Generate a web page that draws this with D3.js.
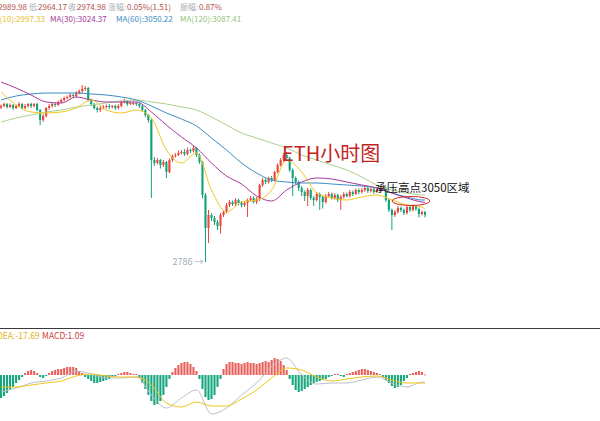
<!DOCTYPE html>
<html><head><meta charset="utf-8">
<script src="https://cdn.jsdelivr.net/npm/d3@7"></script>
<style>body{margin:0;background:#fff;overflow:hidden}svg{display:block}</style>
</head><body>
<svg id="c" width="600" height="421"></svg>
<script>
// ETH hourly candles (price)
const openP=[3404,3410,3418,3406,3414,3402,3410,3418,3402,3410,
3418,3410,3418,3394,3354,3370,3402,3410,3418,3414,
3426,3434,3442,3446,3454,3450,3462,3470,3478,3482,
3434,3418,3402,3394,3402,3406,3410,3406,3410,3402,
3410,3426,3430,3418,3422,3422,3418,3410,3394,3374,
3354,3194,3182,3194,3174,3186,3146,3194,3210,3214,
3222,3226,3218,3234,3230,3242,3214,3186,3054,2922,
2974,2962,2946,2930,2974,2986,3014,3026,3018,3034,
3022,3014,3022,3034,3042,3026,3038,3094,3114,3106,
3122,3114,3146,3174,3194,3214,3202,3154,3122,3106,
3082,3066,3050,3074,3042,3034,3058,3046,3026,3050,
3058,3042,3054,3034,3046,3058,3050,3066,3058,3074,
3066,3074,3082,3070,3078,3066,3074,3078,3082,3034,
2994,2974,2986,3002,2994,2982,3006,2994,3010,2998,2978,2986];
const closeP=[3410,3418,3406,3414,3402,3410,3418,3402,3410,3418,
3410,3418,3394,3354,3370,3402,3410,3418,3414,3426,
3434,3442,3446,3454,3450,3462,3470,3478,3482,3434,
3418,3402,3394,3402,3406,3410,3406,3410,3402,3410,
3426,3430,3418,3422,3422,3418,3410,3394,3374,3354,
3194,3182,3194,3174,3186,3146,3194,3210,3214,3222,
3226,3218,3234,3230,3242,3214,3186,3054,2922,2974,
2962,2946,2930,2974,2986,3014,3026,3018,3034,3022,
3014,3022,3034,3042,3026,3038,3094,3114,3106,3122,
3114,3146,3174,3194,3214,3202,3154,3122,3106,3082,
3066,3050,3074,3042,3034,3058,3046,3026,3050,3058,
3042,3054,3034,3046,3058,3050,3066,3058,3074,3066,
3074,3082,3070,3078,3066,3074,3078,3082,3034,2994,
2974,2986,3002,2994,2982,3006,2994,3010,2998,2978,2986,2974.98];
const highP=[3416,3424,3422,3420,3418,3416,3426,3422,3418,3422,
3424,3422,3424,3398,3378,3406,3418,3426,3424,3432,
3440,3448,3452,3462,3460,3470,3476,3494,3490,3486,
3440,3422,3408,3410,3414,3416,3418,3414,3416,3418,
3432,3440,3434,3428,3428,3426,3422,3414,3398,3378,
3358,3206,3202,3198,3194,3190,3200,3216,3222,3232,
3234,3238,3244,3240,3250,3246,3220,3190,3062,2994,
2982,2970,2954,2982,2994,3022,3034,3032,3042,3040,
3030,3030,3040,3050,3048,3046,3098,3122,3120,3128,
3130,3150,3180,3202,3222,3226,3208,3160,3128,3112,
3090,3072,3082,3080,3050,3066,3064,3052,3058,3066,
3064,3062,3060,3054,3066,3064,3074,3072,3080,3080,
3082,3088,3086,3084,3082,3080,3084,3088,3086,3040,
3000,2994,3010,3008,3000,3012,3012,3016,3014,3004,2992,2989.98];
const lowP=[3398,3406,3400,3402,3394,3398,3406,3396,3398,3404,
3402,3404,3388,3334,3346,3364,3396,3404,3406,3410,
3420,3428,3436,3440,3442,3444,3456,3462,3470,3428,
3410,3396,3384,3386,3396,3400,3398,3400,3394,3396,
3404,3420,3410,3414,3414,3410,3402,3386,3366,3344,
3042,3170,3176,3160,3166,3122,3140,3186,3204,3210,
3216,3210,3212,3222,3224,3206,3178,3040,2786,2862,
2950,2934,2914,2900,2966,2980,3006,3010,3010,3014,
3004,3006,2966,3028,3020,3018,3030,3086,3098,3100,
3106,3108,3140,3168,3186,3194,3146,3050,3098,3070,
3050,3030,3010,3034,3010,3028,2994,3000,3020,3044,
3036,3036,3026,2994,3040,3044,3044,3050,3054,3058,
3060,3066,3062,3064,3058,3062,3068,3072,3026,2986,
2914,2966,2980,2986,2974,2976,2986,2988,2990,2964,2972,2964.17];

// moving averages read at candle indices
const maIndex=[0,5,10,15,20,25,30,35,40,45,50,55,60,65,70,75,80,85,90,95,100,105,110,115,120,125,130,135,140,141];
const ma10=[3466,3414,3386,3382,3386,3402,3434,3394,3382,3394,3362,3234,3182,3222,3074,2986,3026,3034,3074,3194,3146,3062,3042,3034,3046,3054,3034,3014,3006,2997.33];
const ma30=[3506,3482,3454,3426,3422,3446,3434,3426,3426,3426,3386,3334,3286,3242,3182,3130,3098,3050,3030,3074,3106,3122,3118,3106,3094,3082,3062,3042,3026,3024.37];
const ma60=[3434,3450,3458,3462,3462,3462,3458,3454,3446,3434,3410,3382,3358,3330,3282,3234,3182,3142,3114,3106,3102,3102,3098,3094,3090,3082,3062,3046,3034,3034];
const ma120=[3346,3362,3374,3386,3394,3406,3414,3422,3430,3434,3426,3418,3406,3394,3366,3334,3302,3282,3262,3242,3214,3194,3174,3154,3126,3094,3074,3062,3054,3054];

// MACD
const macdHist=[-50.6,-46.2,-39.6,-33,-26.4,-17.6,-11,-4.4,
4.4,8.8,11,8.8,4.4,
-4.4,-6.6,-2.2,
4.4,8.8,11,13.2,13.2,15.4,17.6,17.6,
17.6,15.4,8.8,4.4,
-4.4,-8.8,-13.2,-17.6,-17.6,-15.4,-13.2,-11,-8.8,-4.4,-2.2,
2.2,4.4,6.6,6.6,4.4,2.2,2.2,
-6.6,-17.6,-30.8,-44,-57.2,-66,-63.8,-57.2,-44,-26.4,-8.8,
6.6,15.4,22,26.4,28.6,28.6,24.2,17.6,8.8,
-8.8,-30.8,-48.4,-55,-52.8,-44,-26.4,-8.8,
13.2,24.2,28.6,28.6,26.4,26.4,24.2,26.4,28.6,26.4,26.4,24.2,26.4,28.6,30.8,28.6,33,37.4,35.2,30.8,22,11,
-8.8,-22,-33,-37.4,-35.2,-30.8,-26.4,-22,-17.6,-15.4,-13.2,-11,-8.8,-4.4,
-2.2,2.2,2.2,-2.2,-4.4,
2.2,4.4,6.6,8.8,11,13.2,13.2,11,8.8,6.6,4.4,2.2,
-4.4,-11,-17.6,-24.2,-28.6,-26.4,-22,-13.2,-6.6,
2.2,4.4,6.6,8.8,6.6,1.09];
const difLine=[-37.4,-28.6,-17.6,-13.2,-6.6,8.8,2.2,-6.6,-6.6,-4.4,-44,-72.6,-50.6,-33,-85.8,-72.6,-44,-17.6,17.6,37.4,0,-19.8,-17.6,-17.6,-11,-4.4,-17.6,-26.4,-15.4,-17.1];
const deaLine=[-26.4,-26.4,-22,-17.6,-13.2,-2.2,2.2,-2.2,-4.4,-4.4,-22,-61.6,-70.4,-59.4,-68.2,-68.2,-52.8,-33,-6.6,15.4,11,-4.4,-13.2,-8.8,-4.4,-2.2,-11,-17.6,-17.6,-17.69];

const N=closeP.length;
const svg=d3.select("#c");
const FONT='"Noto Sans CJK SC","Noto Sans",sans-serif';
const UP="#e9473c", DOWN="#12a27a";

const x=d3.scaleBand().domain(d3.range(N)).range([0,426]).paddingInner(0.3).paddingOuter(0);
const bw=x.bandwidth();
const xc=i=>x(i)+bw/2;
const y=d3.scaleLinear().domain([2786,3530]).range([262,76]);
const ym=d3.scaleLinear().domain([-99,99]).range([420,330]);

// candles
const g=svg.append("g");
const idx=d3.range(N);
g.selectAll("line.w").data(idx).join("line")
  .attr("x1",i=>xc(i)).attr("x2",i=>xc(i))
  .attr("y1",i=>y(highP[i])).attr("y2",i=>y(lowP[i]))
  .attr("stroke",i=>closeP[i]>=openP[i]?UP:DOWN).attr("stroke-width",1);
g.selectAll("rect.b").data(idx).join("rect")
  .attr("x",i=>x(i)).attr("width",bw)
  .attr("y",i=>y(Math.max(openP[i],closeP[i])))
  .attr("height",i=>Math.max(1,Math.abs(y(openP[i])-y(closeP[i]))))
  .attr("fill",i=>closeP[i]>=openP[i]?UP:DOWN);

// MA lines
const maLine=arr=>d3.line().x((d,k)=>xc(maIndex[k])).y(d=>y(d)).curve(d3.curveMonotoneX)(arr);
[[ma120,"#a9d18e"],[ma60,"#3b8dc4"],[ma30,"#a63a9c"],[ma10,"#f2c61f"]].forEach(([a,c])=>{
  svg.append("path").attr("d",maLine(a)).attr("fill","none").attr("stroke",c).attr("stroke-width",1);
});

// low label
const lowIdx=lowP.indexOf(d3.min(lowP));
svg.append("text").attr("x",xc(lowIdx)-2).attr("y",y(lowP[lowIdx])+3)
  .attr("text-anchor","end").attr("font-family",FONT).attr("font-size",9).attr("fill","#a4abbb")
  .text(d3.min(lowP)+" →");

// header texts
function txt(s,xpos,ypos,c,anchor,fs){
  svg.append("text").attr("font-family",FONT).attr("font-size",fs||8).attr("x",xpos).attr("y",ypos)
    .attr("text-anchor",anchor||"start").attr("fill",c).text(s);
}
const VAL="#b4514c", LAB="#a9abb3";
txt("高:",-4,10,LAB,"end");
txt("2989.98",27,10,VAL,"end");
txt("低:",29,10,LAB);
txt("2964.17",38,10,VAL);
txt("收:",68,10,LAB);
txt("2974.98",77,10,VAL);
txt("涨幅:",108,10,LAB);
txt("0.05%(1.51)",127,10,VAL);
txt("振幅:",180,10,LAB);
txt("0.87%",199,10,VAL);
txt("MA(10):2997.33",45,22,"#e8c31c","end");
txt("MA(30):3024.37",50,22,"#a63a9c");
txt("MA(60):3050.22",116,22,"#3b8dc4");
txt("MA(120):3087.41",180,22,"#93c47a");

// annotations
svg.append("text").attr("x",282).attr("y",161).attr("font-family",FONT).attr("font-size",20)
  .attr("fill","#c2241e").text("ETH小时图");
svg.append("text").attr("x",375).attr("y",192).attr("font-family",FONT).attr("font-size",11.5)
  .attr("fill","#111").text("承压高点3050区域");
svg.append("ellipse").attr("cx",411).attr("cy",201).attr("rx",19).attr("ry",4.5)
  .attr("fill","none").attr("stroke","#d42a2a").attr("stroke-width",1);

// separator
svg.append("line").attr("x1",0).attr("x2",600).attr("y1",328.5).attr("y2",328.5).attr("stroke","#3a3a3a").attr("stroke-width",1);

// MACD
txt("DEA:-17.69",-3,339,"#e0b21a",null,8.5);
txt("MACD:1.09",42,339,"#c8423d",null,8.5);
svg.append("g").selectAll("rect").data(idx).join("rect")
  .attr("x",i=>x(i)).attr("width",bw)
  .attr("y",i=>Math.min(ym(0),ym(macdHist[i])))
  .attr("height",i=>Math.max(0.8,Math.abs(ym(macdHist[i])-ym(0))))
  .attr("fill",i=>macdHist[i]>=0?"#e8605a":"#18a67e");
const mLine=arr=>d3.line().x((d,k)=>xc(maIndex[k])).y(d=>ym(d)).curve(d3.curveMonotoneX)(arr);
svg.append("path").attr("d",mLine(difLine)).attr("fill","none").attr("stroke","#b9bfca").attr("stroke-width",1);
svg.append("path").attr("d",mLine(deaLine)).attr("fill","none").attr("stroke","#f0c419").attr("stroke-width",1);
</script>
</body></html>
